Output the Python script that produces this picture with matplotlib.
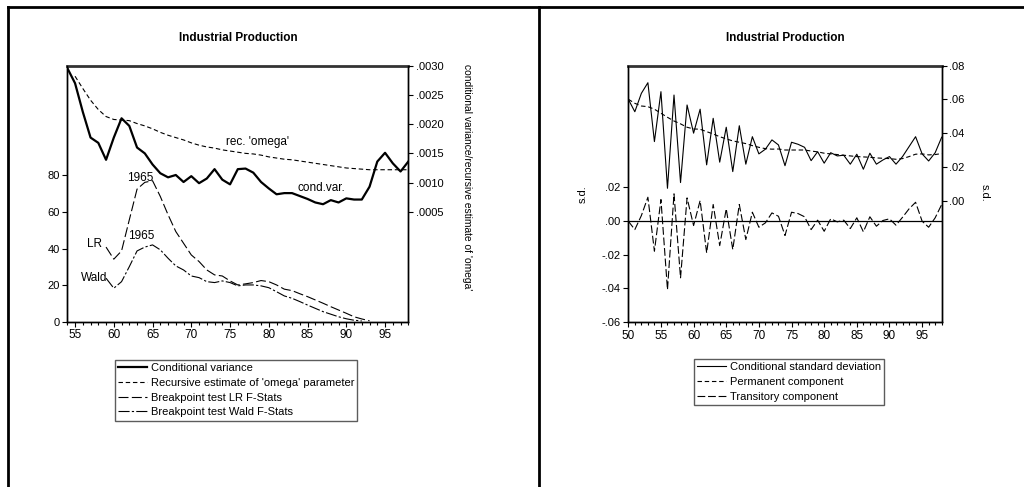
import matplotlib
matplotlib.use("Agg")
import matplotlib.pyplot as plt
from matplotlib.lines import Line2D
from matplotlib.ticker import FixedLocator, MultipleLocator, FixedFormatter
import numpy as np

plt.rcParams['font.family'] = ['Liberation Sans', 'DejaVu Sans']
plt.rcParams['font.size'] = 8

# ---------------- Left panel data ----------------
years_l = list(range(54, 99))
cond_var = [0.00296, 0.00270, 0.00221, 0.00177, 0.00168, 0.00139, 0.00177, 0.00210,
            0.00197, 0.00160, 0.00150, 0.00131, 0.00116, 0.00109, 0.00113, 0.00101,
            0.00111, 0.00099, 0.00107, 0.00123, 0.00105, 0.00097, 0.00123, 0.00124,
            0.00117, 0.00101, 0.00090, 0.00080, 0.00082, 0.00082, 0.00077, 0.00072,
            0.00066, 0.00063, 0.00070, 0.00066, 0.00073, 0.00071, 0.00071, 0.00093,
            0.00136, 0.00151, 0.00133, 0.00119, 0.00136]
years_omega = list(range(55, 99))
rec_omega = [0.00282, 0.00261, 0.00241, 0.00225, 0.00213, 0.00208, 0.00207, 0.00206,
             0.00201, 0.00197, 0.00192, 0.00186, 0.00181, 0.00177, 0.00173, 0.00168,
             0.00164, 0.00161, 0.00159, 0.00156, 0.00154, 0.00152, 0.00150, 0.00149,
             0.00147, 0.00144, 0.00142, 0.00140, 0.00139, 0.00137, 0.00135, 0.00133,
             0.00131, 0.00129, 0.00127, 0.00125, 0.00124, 0.00123, 0.00122, 0.00122,
             0.00122, 0.00122, 0.00122, 0.00122]
years_lr = list(range(59, 94))
lr_stat = [40.8, 34.2, 38.7, 55.7, 72.5, 76.2, 77.1, 68.5, 58.5, 49.3, 42.9, 36.5,
           32.9, 28.3, 25.6, 25.0, 22.3, 20.1, 20.7, 21.4, 22.5, 21.9, 20.1, 17.8,
           17.0, 15.3, 13.7, 11.9, 10.1, 8.2, 6.4, 4.6, 2.7, 1.5, 0.5]
years_wald = list(range(59, 93))
wald_stat = [23.8, 18.3, 21.9, 30.1, 38.7, 40.8, 42.0, 39.3, 34.7, 30.5, 28.3, 25.0,
             24.1, 21.9, 21.4, 22.3, 21.4, 19.6, 20.1, 20.1, 19.6, 18.6, 16.4, 14.1,
             12.8, 11.0, 9.1, 7.3, 5.5, 4.1, 2.7, 1.6, 0.8, 0.4]

# ---------------- Right panel data ----------------
years_r = list(range(50, 99))
cond_sd = [0.0601, 0.0527, 0.0636, 0.0699, 0.0350, 0.0646, 0.0073, 0.0626, 0.0107,
           0.0567, 0.0400, 0.0542, 0.0212, 0.0488, 0.0228, 0.0435, 0.0172, 0.0444,
           0.0216, 0.0379, 0.0277, 0.0305, 0.0360, 0.0330, 0.0207, 0.0346, 0.0334,
           0.0316, 0.0237, 0.0290, 0.0222, 0.0284, 0.0265, 0.0269, 0.0216, 0.0275,
           0.0186, 0.0281, 0.0216, 0.0241, 0.0261, 0.0216, 0.0261, 0.0320, 0.0379,
           0.0277, 0.0235, 0.0284, 0.0376]
permanent = [0.0601, 0.0577, 0.0561, 0.0557, 0.0542, 0.0518, 0.0494, 0.0472, 0.0455,
             0.0435, 0.0425, 0.0423, 0.0409, 0.0395, 0.0379, 0.0366, 0.0354, 0.0346,
             0.0338, 0.0326, 0.0316, 0.0308, 0.0305, 0.0306, 0.0300, 0.0300, 0.0300,
             0.0300, 0.0294, 0.0289, 0.0281, 0.0277, 0.0273, 0.0269, 0.0265, 0.0261,
             0.0259, 0.0257, 0.0253, 0.0251, 0.0249, 0.0245, 0.0249, 0.0261, 0.0275,
             0.0277, 0.0271, 0.0273, 0.0279]
transitory = [-0.0002, -0.0052, 0.0031, 0.0140, -0.0180, 0.0126, -0.0408, 0.0160,
              -0.0338, 0.0136, -0.0028, 0.0120, -0.0190, 0.0097, -0.0147, 0.0071,
              -0.0170, 0.0097, -0.0111, 0.0051, -0.0038, -0.0012, 0.0047, 0.0027,
              -0.0087, 0.0051, 0.0043, 0.0024, -0.0052, 0.0004, -0.0062, 0.0012,
              -0.0006, 0.0004, -0.0046, 0.0018, -0.0065, 0.0024, -0.0032, 0.0002,
              0.0012, -0.0026, 0.0021, 0.0071, 0.0110, -0.0002, -0.0038, 0.0018,
              0.0097]

left_ticks_l = [0, 20, 40, 60, 80]
right_ticks_l = [0.0005, 0.0010, 0.0015, 0.0020, 0.0025, 0.0030]
right_ticklabels_l = ['.0005', '.0010', '.0015', '.0020', '.0025', '.0030']
left_ticks_r = [-0.06, -0.04, -0.02, 0.00, 0.02]
left_ticklabels_r = ['-.06', '-.04', '-.02', '.00', '.02']
right_ticks_r = [0.00, 0.02, 0.04, 0.06, 0.08]
right_ticklabels_r = ['.00', '.02', '.04', '.06', '.08']

W, H = 1024, 487
fig = plt.figure(figsize=(W / 100, H / 100), dpi=100)


def fx(px):
    return px / W


def fy(py):
    return 1 - py / H


TOPC = '#333333'


def style_axes(ax, ax2):
    for a in (ax, ax2):
        a.spines['top'].set_visible(False)
    ax.spines['top'].set_visible(True)
    ax.spines['top'].set_linewidth(2.0)
    ax.spines['top'].set_color(TOPC)
    for s in ('left', 'bottom', 'right'):
        ax.spines[s].set_linewidth(1.0)
        ax2.spines[s].set_linewidth(1.0)
    ax.tick_params(axis='x', which='major', direction='out', length=3.5, width=0.8,
                   labelsize=8.5, pad=2)
    ax.tick_params(axis='x', which='minor', direction='out', length=2.5, width=0.8)
    ax.tick_params(axis='y', direction='out', length=3.5, width=0.8, labelsize=8, pad=2)
    ax2.tick_params(axis='y', direction='out', length=3.5, width=0.8, labelsize=8, pad=2)


def style_legend(leg):
    leg.get_frame().set_edgecolor('#333333')
    leg.get_frame().set_linewidth(1.0)


legend_kw = dict(loc='upper left', fancybox=False, frameon=True, fontsize=8,
                 handlelength=2.6, handletextpad=0.3, labelspacing=0.42,
                 borderpad=0.3, borderaxespad=0)

# ---------------- Left panel ----------------
axL = fig.add_axes([fx(67.3), fy(321.7), fx(408.3) - fx(67.3), fy(65.7) - fy(321.7)])
axL2 = axL.twinx()
axL.set_xlim(54, 98)
axL.set_ylim(0, 140)
axL2.set_ylim(-0.00138, 0.0030)
axL.xaxis.set_major_locator(FixedLocator(list(range(55, 99, 5))))
axL.xaxis.set_minor_locator(MultipleLocator(1))
axL.yaxis.set_major_locator(FixedLocator(left_ticks_l))
axL2.yaxis.set_major_locator(FixedLocator(right_ticks_l))
axL2.yaxis.set_major_formatter(FixedFormatter(right_ticklabels_l))
style_axes(axL, axL2)

h1, = axL2.plot(years_l, cond_var, color='black', lw=1.6, label='Conditional variance')
h2, = axL2.plot(years_omega, rec_omega, color='black', lw=0.8, dashes=(4, 2.5),
                label="Recursive estimate of 'omega' parameter")
h3, = axL.plot(years_lr, lr_stat, color='black', lw=0.8, dashes=(9, 3),
               label='Breakpoint test LR F-Stats')
h4, = axL.plot(years_wald, wald_stat, color='black', lw=0.8, dashes=(10, 2, 2, 2),
               label='Breakpoint test Wald F-Stats')

axL2.text(78.6, 0.00170, "rec. 'omega'", ha='center', va='center', fontsize=8.5)
axL2.text(86.8, 0.00091, "cond.var.", ha='center', va='center', fontsize=8.5)
axL.text(63.4, 78.7, "1965", ha='center', va='center', fontsize=8.5)
axL.text(63.6, 47.0, "1965", ha='center', va='center', fontsize=8.5)
axL.text(57.5, 42.6, "LR", ha='center', va='center', fontsize=8.5)
axL.text(57.4, 24.1, "Wald", ha='center', va='center', fontsize=8.5)

fig.text(fx(238), fy(38), 'Industrial Production', ha='center', va='center',
         fontsize=8.5, fontweight='bold')
fig.text(fx(466.7), fy(177), "conditional variance/recursive estimate of 'omega'",
         rotation=-90, ha='center', va='center', fontsize=7.4)

legL = axL.legend(handles=[h1, h2, h3, h4], bbox_to_anchor=(fx(115), fy(360)),
                  bbox_transform=fig.transFigure, **legend_kw)
style_legend(legL)

# ---------------- Right panel ----------------
axR = fig.add_axes([fx(628.3), fy(322), fx(941.7) - fx(628.3), fy(65.7) - fy(322)])
axR2 = axR.twinx()
axR.set_xlim(50, 98)
axR.set_ylim(-0.06, 0.092)
axR2.set_ylim(-0.072, 0.08)
axR.xaxis.set_major_locator(FixedLocator(list(range(50, 99, 5))))
axR.xaxis.set_minor_locator(MultipleLocator(1))
axR.yaxis.set_major_locator(FixedLocator(left_ticks_r))
axR.yaxis.set_major_formatter(FixedFormatter(left_ticklabels_r))
axR2.yaxis.set_major_locator(FixedLocator(right_ticks_r))
axR2.yaxis.set_major_formatter(FixedFormatter(right_ticklabels_r))
style_axes(axR, axR2)

axR.axhline(0, color='black', lw=0.9)
g1, = axR2.plot(years_r, cond_sd, color='black', lw=0.8,
                label='Conditional standard deviation')
g2, = axR2.plot(years_r, permanent, color='black', lw=0.8, dashes=(4, 2.5),
                label='Permanent component')
g3, = axR.plot(years_r, transitory, color='black', lw=0.8, dashes=(7, 2.5),
               label='Transitory component')

fig.text(fx(785), fy(38), 'Industrial Production', ha='center', va='center',
         fontsize=8.5, fontweight='bold')
fig.text(fx(583), fy(194), 's.d.', rotation=90, ha='center', va='center', fontsize=8)
fig.text(fx(985), fy(193), 's.d.', rotation=-90, ha='center', va='center', fontsize=8)

legR = axR.legend(handles=[g1, g2, g3], bbox_to_anchor=(fx(694), fy(359)),
                  bbox_transform=fig.transFigure, **legend_kw)
style_legend(legR)

# ---------------- Frame lines ----------------
lw_frame = 2.0
fig.add_artist(Line2D([fx(8), 1.0], [fy(6.7), fy(6.7)], color='black', lw=lw_frame,
                      transform=fig.transFigure))
fig.add_artist(Line2D([fx(8), fx(8)], [fy(6.7), 0.0], color='black', lw=lw_frame,
                      transform=fig.transFigure))
fig.add_artist(Line2D([fx(539), fx(539)], [fy(6.7), 0.0], color='black', lw=lw_frame,
                      transform=fig.transFigure))

fig.savefig('out.png', dpi=100)
